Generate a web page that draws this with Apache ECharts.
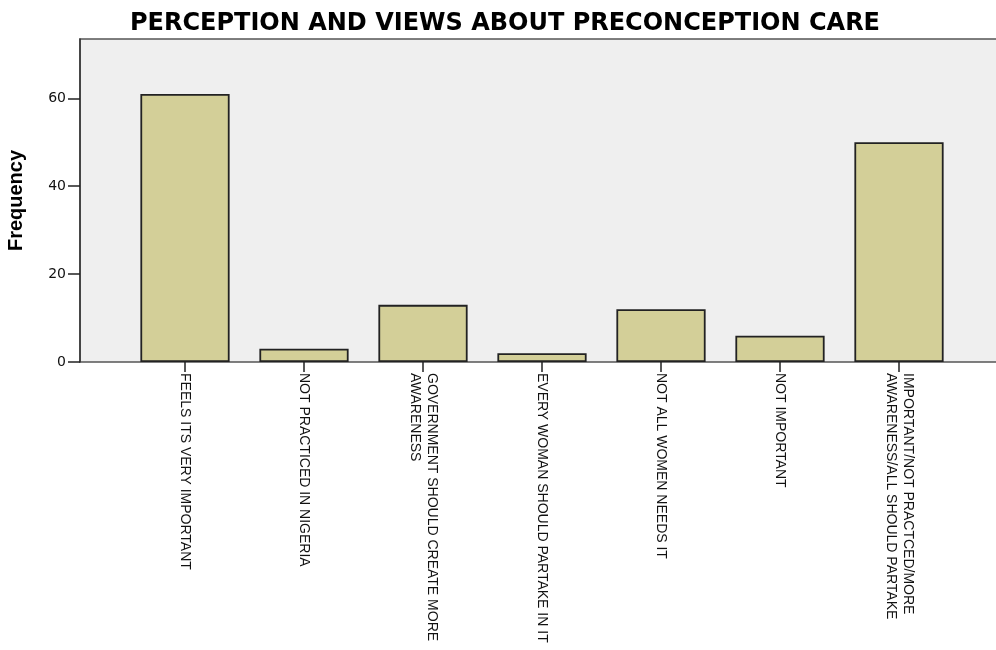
<!DOCTYPE html>
<html><head><meta charset="utf-8">
<script src="https://cdn.jsdelivr.net/npm/echarts@6/dist/echarts.min.js"></script>
<style>html,body{margin:0;padding:0;background:#fff}#c{width:996px;height:650px}</style>
</head><body><div id="c"></div>
<script>
const categories = [
  'FEELS ITS VERY IMPORTANT',
  'NOT PRACTICED IN NIGERIA',
  'GOVERNMENT SHOULD CREATE MORE\nAWARENESS',
  'EVERY WOMAN SHOULD PARTAKE IN IT',
  'NOT ALL WOMEN NEEDS IT',
  'NOT IMPORTANT',
  'IMPORTANT/NOT PRACTCED/MORE\nAWARENESS/ALL SHOULD PARTAKE'
];
const frequency = [61, 3, 13, 2, 12, 6, 50];
const yTicks = [0, 20, 40, 60];
const titleText = 'PERCEPTION AND VIEWS ABOUT PRECONCEPTION CARE';
const yName = 'Frequency';

const chart = echarts.init(document.getElementById('c'));
const font = 'Liberation Sans, Arial, sans-serif';
const yMax = 73.5;
chart.setOption({
  animation: false,
  title: {text: titleText, left: 500, top: 7, textAlign: 'center',
    textStyle: {fontFamily: 'DejaVu Sans', fontSize: 24, fontWeight: 'bold', color: '#000'}},
  grid: [
    {left: 80, right: -2, top: 39, bottom: 288, outerBoundsMode: 'none', containLabel: false,
      show: true, backgroundColor: '#efefef', borderColor: '#555', borderWidth: 1.5},
    {left: 125.5, right: 37.5, top: 39, bottom: 288, outerBoundsMode: 'none', containLabel: false}
  ],
  xAxis: [
    {gridIndex: 0, type: 'value', show: false, min: 0, max: 1},
    {gridIndex: 1, type: 'category', data: categories,
      axisLine: {show: false},
      axisTick: {show: true, alignWithLabel: true, length: 10, lineStyle: {color: '#222', width: 1.5}},
      axisLabel: {rotate: -90, interval: 0, margin: 11, fontFamily: font, fontSize: 14, color: '#111', lineHeight: 17}}
  ],
  yAxis: [
    {gridIndex: 0, type: 'value', min: 0, max: yMax, interval: 20,
      name: yName, nameLocation: 'middle', nameGap: 54, nameRotate: 90,
      nameTextStyle: {fontFamily: font, fontSize: 20, fontWeight: 'bold', color: '#000'},
      axisLine: {show: true, lineStyle: {color: '#333', width: 1.5}},
      axisTick: {show: true, length: 12, customValues: yTicks, lineStyle: {color: '#222', width: 1.5}},
      splitLine: {show: false},
      axisLabel: {fontFamily: 'DejaVu Sans', fontSize: 14, color: '#111', margin: 14, customValues: yTicks,
        formatter: v => yTicks.includes(v) ? String(v) : ''}},
    {gridIndex: 1, type: 'value', min: 0, max: yMax, interval: 20, show: false, splitLine: {show: false}}
  ],
  series: [{
    type: 'bar', xAxisIndex: 1, yAxisIndex: 1, data: frequency,
    barCategoryGap: '25%',
    itemStyle: {color: '#d3cf98', borderColor: '#222', borderWidth: 1.8}
  }]
});
</script></body></html>
